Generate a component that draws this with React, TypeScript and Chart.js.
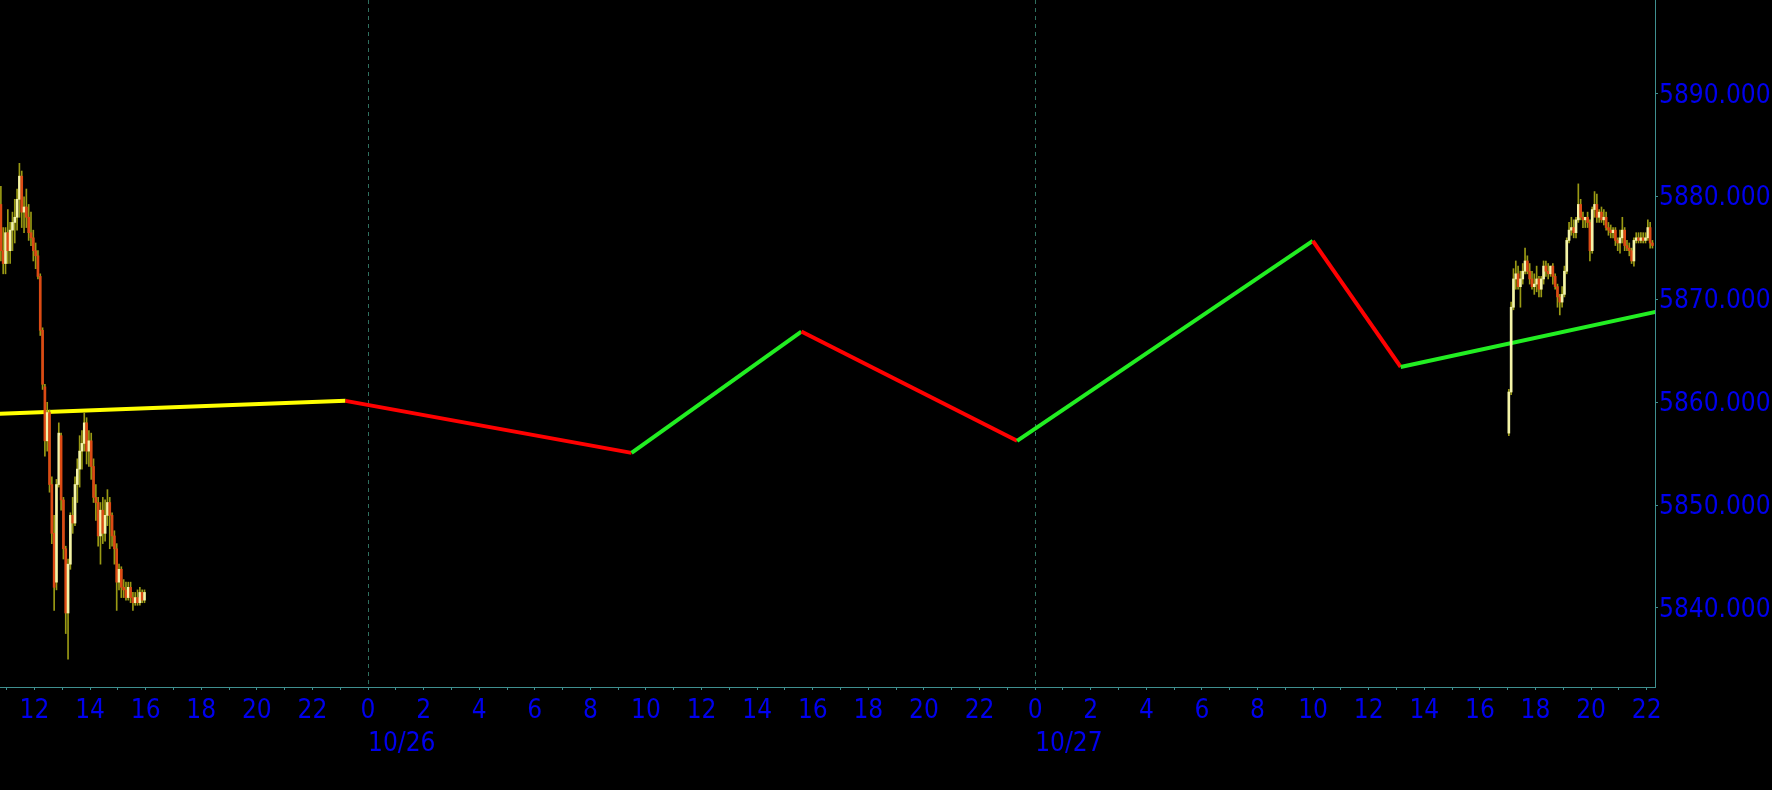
import React, { useEffect, useRef } from 'react';
import { Chart, registerables } from 'chart.js';

Chart.register(...registerables);

// ---------- data (hours counted from 10/25 00:00) ----------
const BAR_MINUTES = 5;
const LEFT_SESSION_START = 10.75; // 10/25 10:45
const RIGHT_SESSION_START = 65; // 10/27 17:00

const leftOpen = [5879.25, 5874.75, 5873.5, 5876.5, 5874.75, 5876.75, 5877.5, 5878.0, 5879.75, 5882.0, 5878.5, 5879.0, 5878.0, 5876.5, 5876.0, 5874.75, 5874.25, 5872.25, 5867.0, 5861.5, 5856.25, 5859.0, 5852.0, 5847.25, 5842.5, 5852.0, 5856.75, 5850.5, 5845.75, 5839.5, 5844.25, 5849.0, 5848.25, 5852.0, 5853.5, 5855.25, 5856.0, 5858.0, 5855.25, 5856.25, 5853.75, 5850.75, 5850.25, 5847.0, 5849.5, 5847.25, 5849.0, 5850.25, 5849.0, 5847.0, 5845.75, 5842.5, 5843.75, 5842.0, 5841.75, 5841.0, 5842.0, 5841.0, 5840.5, 5841.0, 5840.5, 5841.5, 5840.75];
const leftHigh = [5881.0, 5877.0, 5877.0, 5878.75, 5877.5, 5878.5, 5879.75, 5880.75, 5883.25, 5882.5, 5880.0, 5880.75, 5879.25, 5878.5, 5876.75, 5875.5, 5874.75, 5872.5, 5867.25, 5861.75, 5860.0, 5859.25, 5852.75, 5849.0, 5852.5, 5858.0, 5857.0, 5850.75, 5846.0, 5844.75, 5849.25, 5850.75, 5852.75, 5854.5, 5856.75, 5857.25, 5859.0, 5858.5, 5857.25, 5857.0, 5854.5, 5852.0, 5850.75, 5850.25, 5850.75, 5850.5, 5851.5, 5850.75, 5849.25, 5847.5, 5846.25, 5844.25, 5844.0, 5842.75, 5842.5, 5842.5, 5842.5, 5841.5, 5841.5, 5841.75, 5842.0, 5841.75, 5841.75];
const leftLow = [5873.75, 5872.5, 5872.5, 5873.5, 5873.5, 5874.75, 5875.5, 5876.75, 5878.0, 5877.0, 5876.5, 5877.0, 5875.75, 5875.25, 5873.75, 5873.0, 5872.0, 5866.5, 5861.25, 5854.75, 5855.25, 5851.25, 5846.25, 5839.75, 5841.75, 5851.75, 5849.5, 5844.75, 5837.5, 5835.0, 5843.75, 5847.25, 5848.0, 5850.25, 5851.75, 5853.5, 5855.25, 5854.0, 5853.75, 5852.5, 5850.25, 5848.5, 5846.0, 5844.25, 5846.25, 5846.5, 5848.0, 5845.75, 5846.0, 5844.25, 5839.75, 5841.75, 5841.0, 5841.0, 5840.75, 5840.75, 5840.5, 5839.75, 5840.25, 5840.25, 5840.25, 5840.5, 5840.5];
const leftClose = [5874.75, 5873.5, 5876.5, 5874.75, 5876.75, 5877.5, 5878.0, 5879.75, 5882.0, 5878.5, 5879.0, 5878.0, 5876.5, 5876.0, 5874.75, 5874.25, 5872.25, 5867.0, 5861.75, 5856.25, 5859.0, 5852.0, 5847.25, 5842.0, 5852.0, 5857.0, 5850.5, 5845.75, 5839.5, 5844.25, 5849.0, 5848.25, 5852.0, 5853.5, 5855.25, 5856.0, 5858.0, 5855.25, 5856.25, 5853.75, 5850.75, 5850.25, 5847.0, 5849.5, 5847.25, 5849.0, 5850.25, 5849.0, 5847.0, 5845.75, 5842.5, 5843.75, 5842.0, 5841.75, 5841.0, 5842.0, 5841.0, 5840.5, 5841.0, 5840.5, 5841.5, 5840.75, 5841.5];

const rightOpen = [5857.0, 5861.0, 5869.25, 5872.0, 5872.5, 5871.25, 5872.0, 5872.75, 5873.75, 5872.75, 5872.0, 5871.25, 5871.5, 5872.0, 5871.0, 5872.0, 5873.25, 5872.75, 5872.5, 5873.25, 5872.25, 5871.25, 5870.25, 5869.75, 5870.5, 5872.75, 5875.75, 5876.75, 5877.0, 5876.5, 5877.75, 5879.25, 5878.0, 5877.75, 5878.0, 5877.5, 5874.75, 5878.75, 5879.25, 5878.0, 5878.5, 5877.75, 5878.0, 5877.0, 5876.75, 5876.5, 5876.75, 5875.75, 5875.5, 5876.0, 5876.75, 5875.25, 5875.0, 5874.75, 5873.75, 5875.75, 5876.0, 5875.75, 5876.0, 5875.75, 5876.0, 5877.0, 5875.5];
const rightHigh = [5861.25, 5869.75, 5873.0, 5873.75, 5873.25, 5872.75, 5873.5, 5875.0, 5874.25, 5873.5, 5872.75, 5872.5, 5873.25, 5872.25, 5872.25, 5873.75, 5873.75, 5873.5, 5873.25, 5873.5, 5872.5, 5871.5, 5870.5, 5871.25, 5873.25, 5876.0, 5877.5, 5878.0, 5877.75, 5878.0, 5881.25, 5879.75, 5878.5, 5878.0, 5878.5, 5877.75, 5879.0, 5880.5, 5880.25, 5878.75, 5879.0, 5878.75, 5878.5, 5877.5, 5877.25, 5877.0, 5877.0, 5876.0, 5876.75, 5878.0, 5877.0, 5875.75, 5875.5, 5875.0, 5876.0, 5876.5, 5876.5, 5876.5, 5876.5, 5876.5, 5877.75, 5877.5, 5875.75];
const rightLow = [5856.75, 5860.75, 5869.0, 5871.0, 5871.0, 5869.25, 5871.5, 5872.5, 5872.5, 5871.5, 5871.0, 5870.5, 5870.75, 5870.25, 5870.25, 5871.5, 5872.25, 5872.0, 5872.25, 5871.5, 5871.0, 5869.25, 5868.5, 5869.25, 5870.25, 5872.5, 5875.5, 5876.25, 5876.0, 5876.0, 5877.5, 5877.75, 5877.0, 5877.0, 5877.0, 5873.75, 5874.5, 5878.0, 5877.5, 5877.5, 5877.5, 5877.25, 5876.75, 5876.25, 5876.0, 5876.0, 5875.25, 5874.75, 5874.5, 5875.5, 5874.75, 5874.75, 5874.25, 5873.5, 5873.25, 5875.5, 5875.5, 5875.5, 5875.5, 5875.5, 5875.75, 5875.0, 5875.0];
const rightClose = [5861.0, 5869.25, 5872.0, 5872.5, 5871.25, 5872.0, 5872.75, 5873.75, 5872.75, 5872.0, 5871.25, 5871.5, 5872.0, 5871.0, 5872.0, 5873.25, 5872.75, 5872.5, 5873.25, 5872.25, 5871.25, 5870.25, 5869.75, 5870.5, 5872.75, 5875.75, 5876.75, 5877.0, 5876.5, 5877.75, 5879.25, 5878.0, 5877.75, 5878.0, 5877.5, 5874.75, 5878.75, 5879.25, 5878.0, 5878.5, 5877.75, 5878.0, 5877.0, 5876.75, 5876.5, 5876.75, 5875.75, 5875.5, 5876.0, 5876.75, 5875.25, 5875.0, 5874.75, 5873.75, 5875.75, 5876.0, 5875.75, 5876.0, 5875.75, 5876.0, 5877.0, 5875.5, 5875.25];

// zig-zag indicator vertices
const zigzagHours = [10.5, 23.19, 33.48, 39.59, 47.35, 57.99, 61.15, 70.5];
const zigzagValues = [5858.85, 5860.14, 5855.08, 5866.88, 5856.25, 5875.7, 5863.44, 5868.9];
const zigzagColors = ['#ffff00', '#ff0000', '#22ee22', '#ff0000', '#22ee22', '#ff0000', '#22ee22'];

// axes
const X_MIN = 10.76;
const X_MAX = 70.3;
const Y_MIN = 5832.3;
const Y_MAX = 5899.14;
const xTickHours = [11, 12, 13, 14, 15, 16, 17, 18, 19, 20, 21, 22, 23, 24, 25, 26, 27, 28, 29, 30, 31, 32, 33, 34, 35, 36, 37, 38, 39, 40, 41, 42, 43, 44, 45, 46, 47, 48, 49, 50, 51, 52, 53, 54, 55, 56, 57, 58, 59, 60, 61, 62, 63, 64, 65, 66, 67, 68, 69, 70];
const yTickValues = [5840, 5850, 5860, 5870, 5880, 5890, 5900];
const dateLabels = ['10/26', '10/27'];
const dateLabelHours = [24, 48];

// ---------- styles ----------
const FONT_FAMILY = '"DejaVu Sans Condensed", "DejaVu Sans", sans-serif';
const FONT_SIZE = 26;
const LABEL_BLUE = '#0000ee';
const AXIS_TEAL = '#3f8f8f';
const MIDNIGHT_GRID = '#2f6f5f';
const WICK_COLOR = '#9a9a14';
const UP_BODY = '#f4f4a8';
const DOWN_BODY = '#dc4a14';

type Candle = { x: number; wick: [number, number]; body: [number, number]; up: boolean };

function buildCandles(start: number, o: number[], h: number[], l: number[], c: number[]): Candle[] {
  return o.map((_, i) => ({
    x: start + ((i + 0.5) * BAR_MINUTES) / 60,
    wick: [l[i], h[i]],
    body: [Math.min(o[i], c[i]), Math.max(o[i], c[i])],
    up: c[i] >= o[i],
  }));
}

const dateLabelPlugin = {
  id: 'dateLabels',
  afterDraw(chart: any) {
    const { ctx, scales, chartArea } = chart;
    ctx.save();
    ctx.font = `${FONT_SIZE}px ${FONT_FAMILY}`;
    ctx.fillStyle = LABEL_BLUE;
    ctx.textAlign = 'left';
    ctx.textBaseline = 'middle';
    dateLabels.forEach((txt, i) => {
      ctx.fillText(txt, scales.x.getPixelForValue(dateLabelHours[i]), chartArea.bottom + 57);
    });
    ctx.restore();
  },
};

export default function App() {
  const canvasRef = useRef<HTMLCanvasElement | null>(null);

  useEffect(() => {
    document.body.style.margin = '0';
    document.body.style.background = '#000';
    const canvas = canvasRef.current;
    if (!canvas) return;

    const candles = [
      ...buildCandles(LEFT_SESSION_START, leftOpen, leftHigh, leftLow, leftClose),
      ...buildCandles(RIGHT_SESSION_START, rightOpen, rightHigh, rightLow, rightClose),
    ];

    const chart = new Chart(canvas, {
      type: 'bar',
      data: {
        datasets: [
          {
            type: 'bar',
            label: 'bodies',
            data: candles.map((c) => ({ x: c.x, y: c.body })) as any,
            backgroundColor: candles.map((c) => (c.up ? UP_BODY : DOWN_BODY)),
            borderWidth: 0,
            barThickness: 2,
            grouped: false,
            order: 0,
            clip: 0 as any,
          },
          {
            type: 'bar',
            label: 'wicks',
            data: candles.map((c) => ({ x: c.x, y: c.wick })) as any,
            backgroundColor: WICK_COLOR,
            borderWidth: 0,
            barThickness: 1,
            grouped: false,
            order: 1,
            clip: 0 as any,
          },
          {
            type: 'line',
            label: 'zigzag',
            data: zigzagHours.map((h, i) => ({ x: h, y: zigzagValues[i] })) as any,
            borderWidth: 4,
            pointRadius: 0,
            tension: 0,
            borderColor: zigzagColors[0],
            segment: {
              borderColor: (ctx: any) => zigzagColors[ctx.p0DataIndex],
            },
            order: 2,
            clip: 0 as any,
          } as any,
        ],
      },
      options: {
        responsive: false,
        animation: false,
        devicePixelRatio: 1,
        layout: { padding: 0 },
        plugins: {
          legend: { display: false },
          tooltip: { enabled: false },
        },
        scales: {
          x: {
            type: 'linear',
            position: 'bottom',
            min: X_MIN,
            max: X_MAX,
            offset: false,
            grid: {
              offset: false,
              drawOnChartArea: true,
              color: (ctx: any) => (ctx.tick && ctx.tick.value % 24 === 0 ? MIDNIGHT_GRID : 'rgba(0,0,0,0)'),
              lineWidth: 1,
              tickColor: AXIS_TEAL,
              tickLength: 3,
              tickWidth: 1,
            },
            border: { display: true, color: AXIS_TEAL, width: 1, dash: [4, 4] },
            ticks: {
              autoSkip: false,
              maxRotation: 0,
              minRotation: 0,
              padding: 6,
              color: LABEL_BLUE,
              font: { family: FONT_FAMILY, size: FONT_SIZE },
              callback: (v: any) => (Number(v) % 2 === 0 ? String(Number(v) % 24) : ''),
            },
            afterBuildTicks: (s: any) => {
              s.ticks = xTickHours.map((v) => ({ value: v }));
            },
            afterFit: (s: any) => {
              s.height = 103;
              s.paddingLeft = 0;
              s.paddingRight = 0;
              s.paddingTop = 0;
              s.paddingBottom = 0;
            },
          } as any,
          y: {
            type: 'linear',
            position: 'right',
            min: Y_MIN,
            max: Y_MAX,
            grid: {
              drawOnChartArea: false,
              tickColor: AXIS_TEAL,
              tickLength: 3,
              tickWidth: 1,
            },
            border: { display: true, color: AXIS_TEAL, width: 1 },
            ticks: {
              padding: 1,
              labelOffset: 2,
              color: LABEL_BLUE,
              font: { family: FONT_FAMILY, size: FONT_SIZE },
              callback: (v: any) => Number(v).toFixed(3),
            },
            afterBuildTicks: (s: any) => {
              s.ticks = yTickValues.map((v) => ({ value: v }));
            },
            afterFit: (s: any) => {
              s.width = 117;
              s.paddingLeft = 0;
              s.paddingRight = 0;
              s.paddingTop = 0;
              s.paddingBottom = 0;
            },
          } as any,
        },
      },
      plugins: [dateLabelPlugin],
    });

    return () => chart.destroy();
  }, []);

  return (
    <div style={{ position: 'fixed', left: 0, top: 0, width: 1772, height: 790, background: '#000' }}>
      <canvas ref={canvasRef} width={1772} height={790} style={{ display: 'block', width: 1772, height: 790 }} />
    </div>
  );
}
